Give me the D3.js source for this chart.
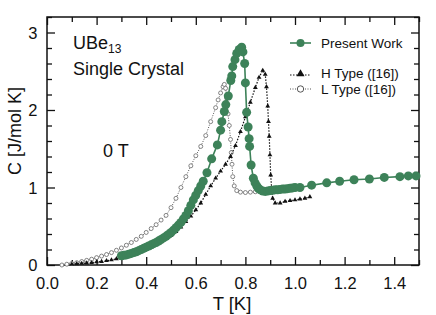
<!DOCTYPE html>
<html>
<head>
<meta charset="utf-8">
<script src="https://cdn.jsdelivr.net/npm/d3@7/dist/d3.min.js"></script>
<style>
  html, body { margin: 0; padding: 0; background: #fff; }
  svg text { font-family: "Liberation Sans", Arial, sans-serif; fill: #111; }
</style>
</head>
<body>
<svg id="chart" width="436" height="315"></svg>
<script>
var presentT = [0.30, 0.31, 0.32, 0.33, 0.34, 0.35, 0.36, 0.37, 0.38, 0.39, 0.40, 0.41, 0.42, 0.43, 0.44, 0.45,
  0.46, 0.47, 0.48, 0.49, 0.50, 0.51, 0.52, 0.53, 0.54, 0.55, 0.56, 0.57, 0.58, 0.59, 0.60, 0.61, 0.62, 0.63,
  0.645, 0.664, 0.687, 0.700, 0.705, 0.715, 0.721, 0.731, 0.741, 0.745, 0.749, 0.758, 0.765, 0.775, 0.785,
  0.790, 0.797, 0.800, 0.805, 0.811, 0.815, 0.817, 0.823, 0.832, 0.839, 0.846, 0.852, 0.860, 0.870, 0.880,
  0.890, 0.900, 0.910, 0.920, 0.930, 0.940, 0.950, 0.960, 0.970, 0.980, 0.990, 1.000, 1.020, 1.067, 1.128,
  1.180, 1.238, 1.300, 1.360, 1.423, 1.457, 1.488];
var presentC = [0.12, 0.125, 0.13, 0.14, 0.15, 0.16, 0.17, 0.185, 0.20, 0.215, 0.23, 0.245, 0.26, 0.275, 0.29, 0.31,
  0.33, 0.35, 0.37, 0.395, 0.42, 0.45, 0.48, 0.515, 0.55, 0.595, 0.64, 0.70, 0.77, 0.84, 0.90, 0.96, 1.02, 1.08,
  1.19, 1.37, 1.55, 1.74, 1.85, 1.98, 2.07, 2.18, 2.38, 2.44, 2.56, 2.65, 2.73, 2.78, 2.81,
  2.75, 2.60, 2.35, 1.97, 1.78, 1.63, 1.53, 1.29, 1.12, 1.06, 1.02, 0.99, 0.97, 0.955, 0.95,
  0.955, 0.96, 0.965, 0.97, 0.97, 0.975, 0.98, 0.98, 0.985, 0.99, 0.995, 1.00, 1.00, 1.03, 1.06,
  1.08, 1.10, 1.11, 1.13, 1.14, 1.15, 1.15];

var hTypeT = [0.10, 0.12, 0.14, 0.16, 0.18, 0.20, 0.22, 0.24, 0.26, 0.28, 0.30, 0.32, 0.34, 0.36, 0.38, 0.40,
  0.42, 0.44, 0.46, 0.48, 0.50, 0.52, 0.54, 0.56, 0.58, 0.60, 0.62, 0.64, 0.66, 0.68, 0.70, 0.72, 0.74, 0.76,
  0.78, 0.80, 0.82, 0.84, 0.855, 0.87, 0.88, 0.885, 0.89, 0.893, 0.896, 0.899, 0.902, 0.906, 0.91, 0.92,
  0.94, 0.96, 0.98, 1.00, 1.02, 1.04, 1.06];
var hTypeC = [0.01, 0.015, 0.02, 0.025, 0.03, 0.04, 0.045, 0.055, 0.065, 0.08, 0.09, 0.11, 0.13, 0.15, 0.175, 0.20,
  0.23, 0.265, 0.30, 0.34, 0.38, 0.43, 0.49, 0.56, 0.63, 0.71, 0.80, 0.91, 1.02, 1.12, 1.21, 1.30, 1.40, 1.54,
  1.72, 1.91, 2.10, 2.29, 2.42, 2.51, 2.46, 2.30, 2.05, 1.85, 1.66, 1.42, 1.16, 0.98, 0.86, 0.80,
  0.80, 0.82, 0.83, 0.84, 0.85, 0.86, 0.88];

var lTypeT = [0.06, 0.08, 0.10, 0.12, 0.14, 0.16, 0.18, 0.20, 0.22, 0.24, 0.26, 0.28, 0.30, 0.32, 0.34, 0.36,
  0.38, 0.40, 0.42, 0.44, 0.46, 0.48, 0.50, 0.52, 0.54, 0.56, 0.58, 0.60, 0.62, 0.64, 0.66, 0.68, 0.69, 0.70,
  0.71, 0.715, 0.72, 0.725, 0.73, 0.735, 0.74, 0.743, 0.746, 0.749, 0.755, 0.765, 0.78, 0.80, 0.82, 0.84];
var lTypeC = [0.0, 0.01, 0.02, 0.03, 0.045, 0.06, 0.075, 0.095, 0.115, 0.135, 0.16, 0.19, 0.22, 0.255, 0.29, 0.33,
  0.37, 0.42, 0.47, 0.52, 0.58, 0.64, 0.74, 0.86, 1.00, 1.14, 1.28, 1.41, 1.53, 1.67, 1.85, 2.03, 2.13, 2.22,
  2.30, 2.33, 2.28, 2.15, 1.95, 1.80, 1.62, 1.45, 1.30, 1.14, 1.02, 0.96, 0.94, 0.935, 0.94, 0.945];

var xTicks = [0.0, 0.2, 0.4, 0.6, 0.8, 1.0, 1.2, 1.4];
var xMinor = [0.1, 0.3, 0.5, 0.7, 0.9, 1.1, 1.3, 1.5];
var yTicks = [0, 1, 2, 3];
var yMinor = [0.2, 0.4, 0.6, 0.8, 1.2, 1.4, 1.6, 1.8, 2.2, 2.4, 2.6, 2.8, 3.2];

var legendNames = ['Present Work', 'H Type ([16])', 'L Type ([16])'];

(function() {
  var svg, x, y, left, right, top, bottom, green, line, zip, plot, lg, rows;

  left = 47;
  right = 419;
  top = 17;
  bottom = 265;
  green = '#3d8259';

  svg = d3.select('#chart');

  x = d3.scaleLinear().domain([0, 1.5]).range([left, right]);
  y = d3.scaleLinear().domain([0, 3.2]).range([bottom, top]);

  zip = function(ts, cs) {
    return ts.map(function(t, i) {
      return [t, cs[i]];
    });
  };

  line = d3.line().x(function(d) {
    return x(d[0]);
  }).y(function(d) {
    return y(d[1]);
  });

  // axes: major + minor ticks on all four sides, pointing inward
  var addAxis = function(axis, tr, size, vals, labels) {
    var g = svg.append('g').attr('transform', tr)
      .call(axis.tickValues(vals).tickSizeInner(size).tickSizeOuter(0).tickPadding(8)
        .tickFormat(labels ? labels : function() { return ''; }));
    g.select('.domain').remove();
    g.selectAll('line').attr('stroke', '#111').attr('stroke-width', 1.3);
    return g;
  };

  var gx = addAxis(d3.axisBottom(x), 'translate(0,' + bottom + ')', -8, xTicks, d3.format('.1f'));
  gx.selectAll('text').attr('font-size', 16.5).attr('dy', '0.95em');
  addAxis(d3.axisBottom(x), 'translate(0,' + bottom + ')', -5, xMinor);
  addAxis(d3.axisTop(x), 'translate(0,' + top + ')', -8, xTicks);
  addAxis(d3.axisTop(x), 'translate(0,' + top + ')', -5, xMinor);

  var gy = addAxis(d3.axisLeft(y), 'translate(' + left + ',0)', -8, yTicks, d3.format('d'));
  gy.selectAll('text').attr('font-size', 16.5).attr('dx', '-0.1em').attr('dy', '0.36em');
  addAxis(d3.axisLeft(y), 'translate(' + left + ',0)', -5, yMinor);
  addAxis(d3.axisRight(y), 'translate(' + right + ',0)', -8, yTicks);
  addAxis(d3.axisRight(y), 'translate(' + right + ',0)', -5, yMinor);

  svg.append('rect').attr('x', left).attr('y', top)
    .attr('width', right - left).attr('height', bottom - top)
    .attr('fill', 'none').attr('stroke', '#111').attr('stroke-width', 1.5);

  plot = svg.append('g');

  // L type
  plot.append('path').datum(zip(lTypeT, lTypeC)).attr('d', line)
    .attr('fill', 'none').attr('stroke', '#555').attr('stroke-width', 1).attr('stroke-dasharray', '1,1.5');
  plot.selectAll('.lpt').data(zip(lTypeT, lTypeC)).enter().append('circle')
    .attr('class', 'lpt').attr('cx', function(d) { return x(d[0]); }).attr('cy', function(d) { return y(d[1]); })
    .attr('r', 2).attr('fill', '#fff').attr('stroke', '#666').attr('stroke-width', 0.8);

  // H type
  plot.append('path').datum(zip(hTypeT, hTypeC)).attr('d', line)
    .attr('fill', 'none').attr('stroke', '#111').attr('stroke-width', 1.2).attr('stroke-dasharray', '1.5,1.5');
  plot.selectAll('.hpt').data(zip(hTypeT, hTypeC)).enter().append('path')
    .attr('class', 'hpt')
    .attr('transform', function(d) { return 'translate(' + x(d[0]) + ',' + y(d[1]) + ')'; })
    .attr('d', d3.symbol().type(d3.symbolTriangle).size(10)).attr('fill', '#111');

  // present work
  plot.append('path').datum(zip(presentT, presentC)).attr('d', line)
    .attr('fill', 'none').attr('stroke', green).attr('stroke-width', 1.6);
  plot.selectAll('.ppt').data(zip(presentT, presentC)).enter().append('circle')
    .attr('class', 'ppt').attr('cx', function(d) { return x(d[0]); }).attr('cy', function(d) { return y(d[1]); })
    .attr('r', 4.5).attr('fill', green);

  // legend
  rows = [43, 73, 89];
  lg = svg.append('g');
  lg.append('line').attr('x1', 290).attr('x2', 311).attr('y1', rows[0]).attr('y2', rows[0])
    .attr('stroke', green).attr('stroke-width', 1.6);
  lg.append('circle').attr('cx', 300.5).attr('cy', rows[0]).attr('r', 4).attr('fill', green);
  lg.append('line').attr('x1', 290).attr('x2', 311).attr('y1', rows[1] + 2).attr('y2', rows[1] + 2)
    .attr('stroke', '#111').attr('stroke-width', 1.2).attr('stroke-dasharray', '1.5,1.5');
  lg.append('path').attr('transform', 'translate(300.5,' + (rows[1] + 1) + ')')
    .attr('d', d3.symbol().type(d3.symbolTriangle).size(28)).attr('fill', '#111');
  lg.append('line').attr('x1', 290).attr('x2', 311).attr('y1', rows[2]).attr('y2', rows[2])
    .attr('stroke', '#555').attr('stroke-width', 1).attr('stroke-dasharray', '1,1.5');
  lg.append('circle').attr('cx', 300.5).attr('cy', rows[2]).attr('r', 3.2)
    .attr('fill', '#fff').attr('stroke', '#444').attr('stroke-width', 0.9);
  lg.selectAll('text').data(legendNames).enter().append('text')
    .attr('x', 321).attr('y', function(d, i) { return rows[i]; }).attr('dy', '0.36em')
    .attr('font-size', 13.5).text(function(d) { return d; });

  // annotations
  var t1 = svg.append('text').attr('x', 73).attr('y', 49).attr('font-size', 18);
  t1.append('tspan').text('UBe');
  t1.append('tspan').attr('font-size', 12).attr('dy', 4).text('13');
  svg.append('text').attr('x', 73).attr('y', 75).attr('font-size', 18).text('Single Crystal');
  svg.append('text').attr('x', 103).attr('y', 157).attr('font-size', 18).text('0 T');

  // axis titles
  svg.append('text').attr('x', 232).attr('y', 310).attr('text-anchor', 'middle')
    .attr('font-size', 18.5).text('T [K]');
  svg.append('text').attr('transform', 'translate(21,131) rotate(-90)').attr('text-anchor', 'middle')
    .attr('font-size', 18).text('C [J/mol K]');
}).call(this);
</script>
</body>
</html>
